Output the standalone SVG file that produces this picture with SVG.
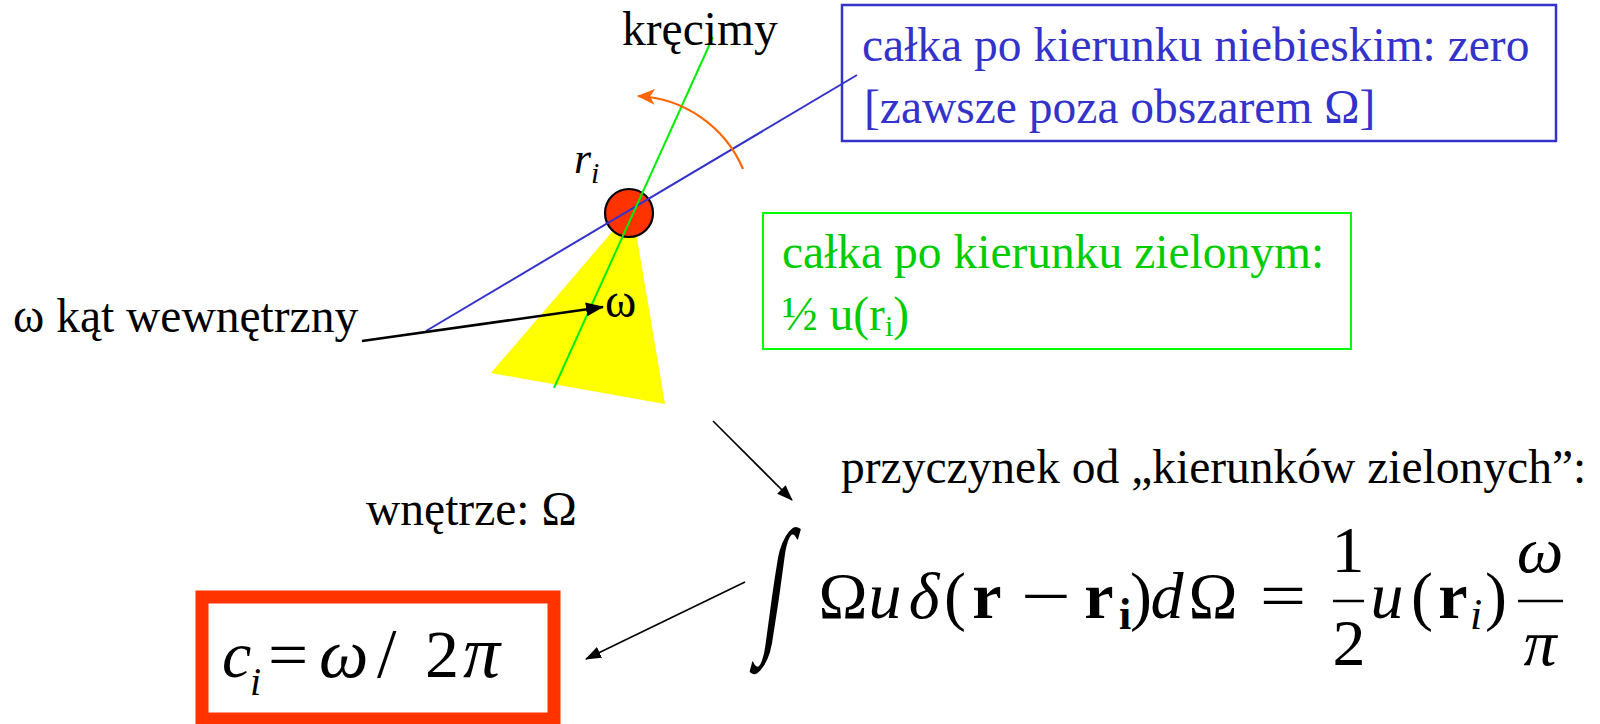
<svg xmlns="http://www.w3.org/2000/svg" width="1600" height="724" viewBox="0 0 1600 724">
<defs>
<style>
text{font-family:"Liberation Serif","Times New Roman",serif;fill:#000}
.t{font-size:47.5px}
.blue{fill:#3333CC;font-size:47.5px}
.green{fill:#00CC00;font-size:47.5px}
.m{font-size:66px;text-anchor:middle}
.it{font-style:italic}
.b{font-weight:bold}
.sub{font-size:44px;text-anchor:middle}
.conn{stroke:#000;fill:none}
</style>
<marker id="ah" markerUnits="userSpaceOnUse" markerWidth="18" markerHeight="14" refX="17" refY="7" orient="auto"><path d="M0,0 L18,7 L0,14 z" fill="#000"/></marker>
<marker id="ahs" markerUnits="userSpaceOnUse" markerWidth="16" markerHeight="12" refX="15" refY="6" orient="auto"><path d="M0,0 L16,6 L0,12 z" fill="#000"/></marker>
<marker id="oh" markerUnits="userSpaceOnUse" markerWidth="18" markerHeight="16" refX="17" refY="8" orient="auto"><path d="M0,0 L18,8 L0,16 L5,8 z" fill="#FF6600"/></marker>
</defs>
<rect width="1600" height="724" fill="#fff"/>

<g id="cone">
<polygon points="612,232 636,232 665,404 491,373" fill="#FFFF00"/>
</g>
<g id="point">
<circle cx="629" cy="213" r="24" fill="#FF3300" stroke="#000" stroke-width="2.2"/>
</g>
<g id="directions">
<line x1="426" y1="331" x2="857" y2="75" stroke="#3333CC" stroke-width="2"/>
<line x1="713" y1="37" x2="554" y2="388" stroke="#00EE00" stroke-width="2"/>
</g>

<g id="labels">
<text class="t" x="622" y="45">kręcimy</text>
<text class="it" x="574" y="173" font-size="44">r</text>
<text class="it" x="591" y="183" font-size="30">i</text>
<text class="t" x="605" y="317">ω</text>
<text class="t" x="13" y="332">ω kąt wewnętrzny</text>
<text class="t" x="366" y="525">wnętrze: Ω</text>
<text class="t" x="841" y="483">przyczynek od „kierunków zielonych”:</text>
</g>

<g id="blue-box">
<rect x="842" y="5" width="714" height="136" fill="none" stroke="#3333CC" stroke-width="2.5"/>
<text class="blue" x="862" y="61">całka po kierunku niebieskim: zero</text>
<text class="blue" x="864" y="123">[zawsze poza obszarem Ω]</text>
</g>

<g id="green-box">
<rect x="763" y="213" width="588" height="136" fill="none" stroke="#00FF00" stroke-width="2"/>
<text class="green" x="782" y="268">całka po kierunku zielonym:</text>
<text class="green" x="782" y="330">½ u(r<tspan font-size="30" dy="6">i</tspan><tspan dy="-6">)</tspan></text>
</g>

<g id="result">
<rect x="202" y="597" width="352" height="122" fill="#fff" stroke="#FF3300" stroke-width="13"/>
<text class="it" x="222" y="677" font-size="66">c</text>
<text class="it" x="250" y="695" font-size="40">i</text>
<text x="268" y="677" font-size="66" transform="translate(268 0) scale(1.08 1) translate(-268 0)">=</text>
<text class="it" x="319" y="677" font-size="70">ω</text>
<text x="377" y="677" font-size="70">/</text>
<text x="425" y="677" font-size="68">2</text>
<text class="it" x="463" y="677" font-size="74">π</text>
</g>

<g id="formula">
<text font-size="150" text-anchor="middle" transform="translate(775 602) skewX(-8) scale(0.55 1)" x="0" y="32">∫</text>
<text class="m" x="843" y="618">Ω</text>
<text class="m it" x="885" y="618">u</text>
<text class="m it" x="924" y="618">δ</text>
<text class="m" x="955" y="618">(</text>
<text class="m b" x="987" y="618">r</text>
<text class="m" x="1046" y="618" transform="translate(1046 0) scale(1.35 1) translate(-1046 0)">−</text>
<text class="m b" x="1099" y="618">r</text>
<text class="sub b" x="1125" y="629">i</text>
<text class="m" x="1141" y="618">)</text>
<text class="m it" x="1167" y="618">d</text>
<text class="m" x="1213" y="618">Ω</text>
<text class="m" x="1283" y="618" transform="translate(1283 0) scale(1.25 1) translate(-1283 0)">=</text>
<text class="m" x="1348" y="572">1</text>
<line x1="1333" y1="601" x2="1364" y2="601" stroke="#000" stroke-width="2.5"/>
<text class="m" x="1349" y="665">2</text>
<text class="m it" x="1387" y="618">u</text>
<text class="m" x="1422" y="618">(</text>
<text class="m b" x="1453" y="618">r</text>
<text class="sub it" x="1476" y="629">i</text>
<text class="m" x="1496" y="618">)</text>
<text class="m it" x="1540" y="572">ω</text>
<line x1="1518" y1="601" x2="1563" y2="601" stroke="#000" stroke-width="2.5"/>
<text class="m it" x="1540" y="665">π</text>
</g>

<g id="connectors">
<path d="M743,169 A120,120 0 0 0 638,96" fill="none" stroke="#FF6600" stroke-width="2.2" marker-end="url(#oh)"/>
<line class="conn" x1="362" y1="341" x2="603" y2="307" stroke-width="2.5" marker-end="url(#ah)"/>
<line class="conn" x1="713" y1="421" x2="792" y2="500" stroke-width="1.6" marker-end="url(#ahs)"/>
<line class="conn" x1="745" y1="582" x2="586" y2="659" stroke-width="1.6" marker-end="url(#ahs)"/>
</g>
</svg>
